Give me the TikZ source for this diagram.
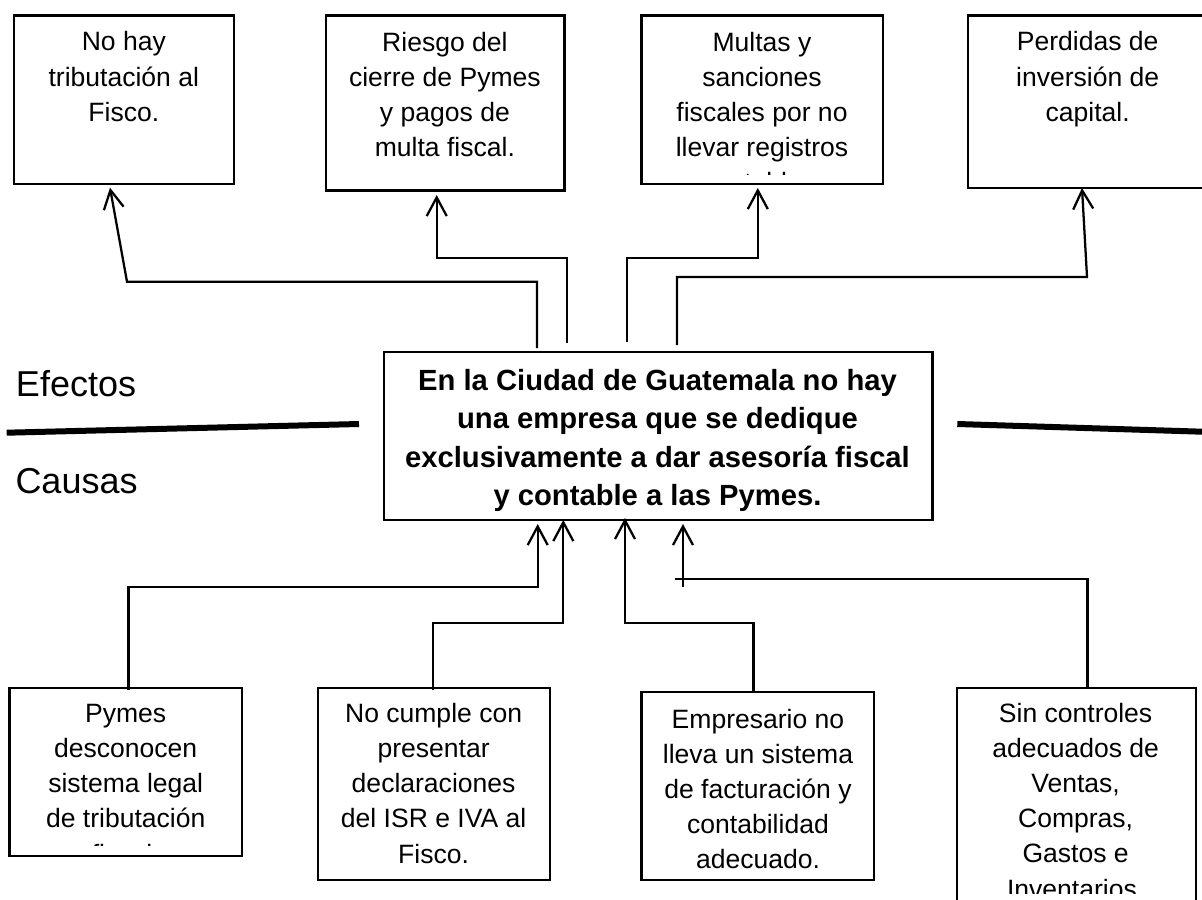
\documentclass[tikz,border=0pt]{standalone}
\usepackage{fontspec}
\setmainfont{Liberation Sans}
\usetikzlibrary{arrows.meta}
\tikzset{
  boxn/.style={draw=black,line width=1.7pt,inner sep=0pt,outer sep=0pt,fill=none},
  txt/.style={align=center,inner sep=0pt,outer sep=0pt,anchor=base,font=\fontsize{19.9pt}{26.4pt}\selectfont},
  boldtxt/.style={align=center,inner sep=0pt,outer sep=0pt,anchor=base,font=\fontsize{21.9pt}{28.9pt}\selectfont\bfseries},
  side/.style={inner sep=0pt,outer sep=0pt,anchor=base west,font=\fontsize{27pt}{32pt}\selectfont},
  link/.style={draw=black,line width=1.7pt,line join=miter,-{Straight Barb[length=14pt,width=15pt,line width=1.7pt]}},
  plainlink/.style={draw=black,line width=1.7pt},
  divider/.style={draw=black,line width=4.5pt}
}
\begin{document}
\begin{tikzpicture}[x=0.75pt,y=-0.75pt]
\clip (0,0) rectangle (1202,899);
% boxes
\node[boxn,minimum width=165pt,minimum height=126.4pt] (b1) at (124,99.75) {};
\node[boxn,minimum width=178.9pt,minimum height=131.25pt] (b2) at (445.25,103) {};
\node[boxn,minimum width=181.1pt,minimum height=126.4pt] (b3) at (762.25,99.75) {};
\node[boxn,minimum width=178.5pt,minimum height=129.4pt] (b4) at (1087,101.75) {};
\node[boxn,minimum width=411.3pt,minimum height=126.2pt] (ctr) at (658.2,435.85) {};
\node[boxn,minimum width=174.3pt,minimum height=126pt] (c1) at (125.8,772) {};
\node[boxn,minimum width=174pt,minimum height=143.8pt] (c2) at (434,783.85) {};
\node[boxn,minimum width=174.4pt,minimum height=141pt] (c3) at (757.75,786) {};
\node[boxn,minimum width=179.1pt,minimum height=170.25pt] (c4) at (1076.4,801.5) {};
% texts
\node[txt] (t1) at (123.8,121.4) {No hay\\tributación al\\Fisco.};
\node[txt] (t2) at (444.9,156.6) {Riesgo del\\cierre de Pymes\\y pagos de\\multa fiscal.};
\begin{scope}
\clip (643,17) rectangle (881,174);
\node[txt] (t3) at (762,191.8) {Multas y\\sanciones\\fiscales por no\\llevar registros\\contables.};
\end{scope}
\node[txt] (t4) at (1087.7,121.4) {Perdidas de\\inversión de\\capital.};
\node[boldtxt] (tc) at (657.5,505.6) {En la Ciudad de Guatemala no hay\\una empresa que se dedique\\exclusivamente a dar asesoría fiscal\\y contable a las Pymes.};
\begin{scope}
\clip (11,690) rectangle (240,845.5);
\node[txt] (u1) at (125.7,863.1) {Pymes\\desconocen\\sistema legal\\de tributación\\fiscal.};
\end{scope}
\node[txt] (u2) at (433.6,863.1) {No cumple con\\presentar\\declaraciones\\del ISR e IVA al\\Fisco.};
\node[txt] (u3) at (758,868.8) {Empresario no\\lleva un sistema\\de facturación y\\contabilidad\\adecuado.};
\begin{scope}
\clip (959,690) rectangle (1194,893);
\node[txt] (u4) at (1075.6,898) {Sin controles\\adecuados de\\Ventas,\\Compras,\\Gastos e\\Inventarios.};
\end{scope}
\node[side] (ef) at (16,396.7) {Efectos};
\node[side] (ca) at (15.5,493) {Causas};
% dividers
\coordinate (dl1) at (6.7,432.7);
\coordinate (dl2) at (359,424);
\coordinate (dr1) at (957.3,424);
\coordinate (dr2) at (1202,431.7);
\draw[divider] (dl1) -- (dl2);
\draw[divider] (dr1) -- (dr2);
% waypoints on top
\coordinate (e1) at (537,348);
\coordinate (e2) at (567,343);
\coordinate (e3) at (627,342);
\coordinate (e4) at (677,345);
\coordinate (k1) at (110,187.7);
\coordinate (k2) at (436.7,195);
\coordinate (k3) at (757.8,188);
\coordinate (k4) at (1082,188);
\draw[link] (e1) -- (537,281.7) -- (127,281.7) -- (k1);
\draw[link] (e2) -- (567,258) -- (436.7,258) -- (k2);
\draw[link] (e3) -- (627,258) -- (757.8,258) -- (k3);
\draw[link] (e4) -- (677,277) -- (1087,277) -- (k4);
% bottom
\coordinate (s1) at (128.6,690);
\coordinate (s2) at (433,690);
\coordinate (s3) at (753.5,692);
\coordinate (s4) at (1087.5,688);
\coordinate (m1) at (537.7,524);
\coordinate (m2) at (563.3,520);
\coordinate (m3) at (625,518);
\coordinate (m4) at (683,524);
\coordinate (f4) at (675,579.3);
\coordinate (g4) at (683,586.7);
\draw[link] (s1) -- (128.6,586.7) -- (537.7,586.7) -- (m1);
\draw[link] (s2) -- (433,623) -- (563.3,623) -- (m2);
\draw[link] (s3) -- (753.5,623.3) -- (625,623.3) -- (m3);
\draw[plainlink] (s4) -- (1087.5,579.3) -- (f4);
\draw[link] (g4) -- (m4);
\end{tikzpicture}
\end{document}
